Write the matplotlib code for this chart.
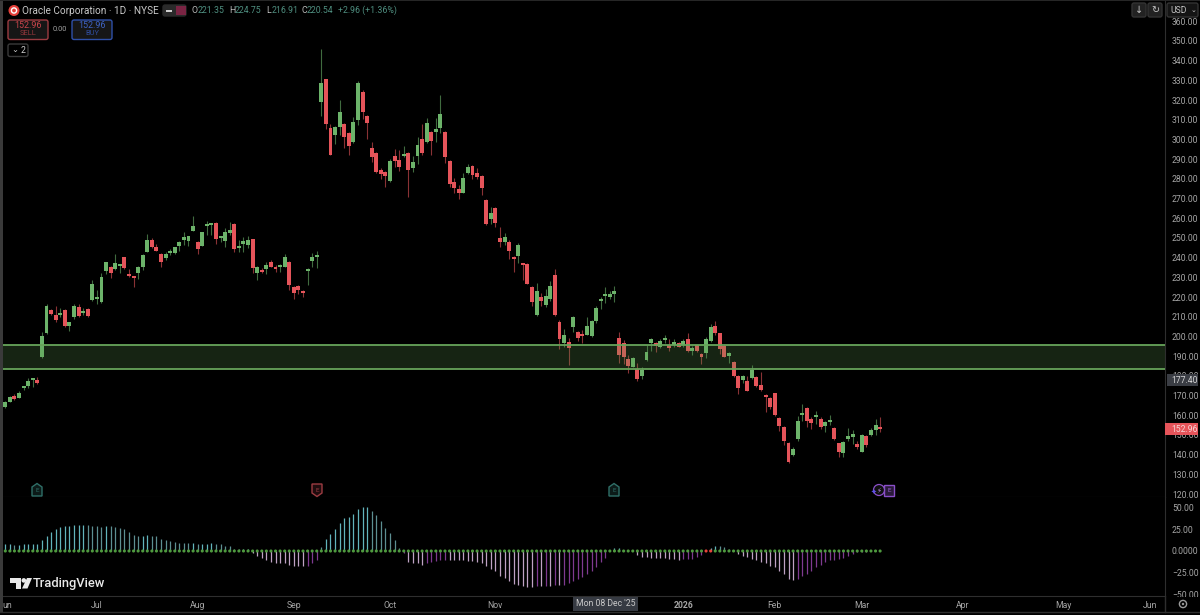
import matplotlib
matplotlib.use("Agg")
import matplotlib.pyplot as plt
from matplotlib.patches import Circle, FancyBboxPatch, Polygon, Rectangle

plt.rcParams['font.family'] = ['Roboto', 'DejaVu Sans']

# daily candles, one row per ten bars
opens = [164.2,166.9,170.0,169.0,174.0,174.7,177.8,177.8,189.8,201.6,
         213.3,210.7,211.1,213.4,205.5,210.1,215.0,212.1,214.0,218.7,
         219.2,217.5,233.2,235.1,234.4,236.0,240.2,231.7,230.5,232.2,
         235.4,243.1,248.8,245.4,242.0,239.7,242.6,242.2,246.1,249.0,
         248.6,253.7,248.2,246.0,256.0,256.6,257.8,249.8,248.5,252.4,
         257.3,245.1,247.0,246.3,249.3,232.4,233.7,234.1,237.6,235.3,
         235.1,235.4,238.0,225.3,225.8,223.1,233.1,238.5,240.2,319.2,
         330.5,305.8,302.3,306.5,307.9,303.1,298.9,309.9,324.1,312.1,
         295.5,293.1,284.7,283.7,278.8,291.8,289.6,291.6,293.3,285.4,
         291.6,300.2,298.7,303.8,303.8,305.7,303.8,289.1,278.3,275.0,
         273.0,283.2,286.7,283.0,281.5,269.1,259.6,265.4,250.2,247.8,
         248.1,239.9,240.9,236.6,236.8,225.1,210.8,220.2,216.2,218.9,
         231.2,207.4,196.5,197.2,204.8,202.3,201.3,200.9,200.3,207.9,
         217.9,220.6,220.0,221.7,199.3,196.5,188.6,184.7,183.3,180.0,
         188.1,196.5,196.5,194.8,198.0,195.7,195.5,196.5,195.5,198.7,
         192.5,195.5,191.1,191.6,197.6,205.3,201.9,195.2,189.9,187.2,
         180.0,177.9,177.4,178.9,179.5,175.2,170.3,168.6,171.2,158.6,
         154.2,145.9,139.7,148.1,160.0,163.7,158.1,159.0,158.1,154.4,
         156.6,153.6,145.8,140.9,148.0,149.0,145.6,141.5,149.3,149.9,152.7,153.7]
closes = [166.9,169.5,168.1,171.5,174.5,177.4,178.1,176.4,200.1,215.5,
          211.3,208.2,211.6,205.2,207.2,215.5,210.6,212.8,210.3,226.5,
          219.7,230.2,237.6,232.1,237.1,236.5,234.6,230.5,229.7,235.3,
          241.4,249.0,245.6,243.6,238.0,242.0,243.2,245.3,248.0,250.3,
          250.8,255.9,244.2,252.9,256.3,256.9,249.3,250.5,252.9,254.2,
          244.2,245.4,248.5,249.2,234.6,235.3,232.7,236.5,235.4,234.4,
          236.0,240.5,226.1,222.1,223.4,222.1,233.4,240.2,241.5,328.5,
          307.9,292.1,306.5,314.1,301.4,296.7,308.7,328.5,314.0,308.5,
          291.3,283.5,282.7,281.5,289.1,288.9,286.2,292.5,284.5,288.7,
          297.0,293.0,308.2,299.1,305.2,313.1,291.3,277.2,275.2,272.7,
          280.3,286.2,281.8,280.8,275.4,257.1,262.7,257.8,248.0,250.5,
          243.6,239.2,246.3,236.1,226.8,217.7,222.9,218.0,220.6,225.6,
          210.8,198.7,200.6,194.2,209.9,199.4,200.4,205.3,208.0,214.6,
          219.2,221.4,221.7,223.1,190.4,189.8,184.9,188.9,178.3,182.8,
          192.1,198.6,195.4,197.7,198.7,194.2,197.2,194.8,197.6,192.5,
          194.2,192.5,189.8,198.7,205.0,201.9,193.5,189.8,191.6,180.0,
          173.9,180.0,172.3,182.8,174.7,172.7,169.1,164.4,160.0,154.6,
          146.8,136.3,143.1,156.9,160.7,157.3,156.3,160.3,153.9,156.4,
          157.6,148.0,141.2,146.5,149.5,150.5,143.8,149.8,144.9,152.7,155.1,152.96]
highs = [167.2,169.8,170.6,172.3,175.0,178.8,178.4,179.6,202.5,216.7,
         214.0,215.7,214.6,213.8,207.5,216.3,216.7,214.3,214.5,228.5,
         223.4,232.1,238.0,235.8,241.7,236.6,240.5,234.3,230.9,236.0,
         241.7,251.9,249.8,246.8,242.4,243.0,244.4,245.6,248.5,252.9,
         251.2,261.0,248.5,253.2,258.8,257.1,258.1,250.8,254.9,258.0,
         257.6,249.0,250.7,250.8,249.7,235.8,234.9,238.0,238.8,236.3,
         236.6,242.0,238.3,225.6,226.1,223.4,234.6,242.5,243.4,345.8,
         330.9,307.9,306.8,320.0,308.5,303.8,311.2,329.5,325.1,312.4,
         298.7,293.8,285.4,284.2,289.9,295.0,294.7,296.7,293.6,291.6,
         301.1,307.9,310.7,304.5,310.9,322.6,304.1,289.4,280.5,277.0,
         283.2,287.6,287.2,285.5,281.8,269.6,265.9,265.9,255.4,252.7,
         249.0,240.9,247.3,237.2,237.2,225.6,227.0,222.2,224.0,228.4,
         234.1,208.4,204.0,199.1,210.4,202.6,203.3,210.1,208.4,215.5,
         219.9,225.0,223.3,225.6,202.1,198.2,190.6,189.8,186.7,184.7,
         195.7,199.1,197.4,198.6,200.6,198.6,198.6,197.2,198.9,202.0,
         195.2,195.9,191.5,199.9,206.4,208.0,202.0,195.7,192.3,187.7,
         180.5,180.5,180.0,185.6,180.0,182.0,170.6,169.5,171.5,159.3,
         154.6,146.5,143.8,159.7,165.7,164.0,159.3,162.4,159.0,157.3,
         160.3,154.2,146.1,147.1,153.6,152.5,147.1,150.5,149.8,153.4,158.3,159.3]
lows = [163.5,166.6,167.8,168.6,172.8,174.0,174.5,176.0,188.9,201.1,
        210.9,207.5,210.1,204.8,202.8,208.9,210.1,210.9,210.1,218.2,
        216.7,217.2,231.5,229.7,233.6,232.1,234.1,230.2,225.3,229.2,
        233.6,242.7,245.1,243.4,235.4,238.8,241.4,241.9,243.6,246.4,
        245.8,253.5,242.0,245.8,251.5,251.5,246.8,248.1,245.6,251.5,
        242.7,243.1,243.0,245.1,232.4,228.7,232.4,231.5,235.1,232.9,
        232.9,235.1,223.6,219.2,221.8,219.9,226.1,235.4,234.6,311.9,
        305.2,292.0,297.7,302.3,295.5,292.1,298.0,307.4,310.2,300.1,
        288.7,283.2,280.0,276.0,278.4,286.2,284.2,291.0,271.0,283.7,
        287.6,292.3,298.4,292.1,298.9,303.1,287.9,275.7,272.7,269.6,
        272.7,282.5,280.1,280.1,271.8,256.6,257.1,255.4,245.3,246.5,
        239.3,232.6,237.2,228.7,226.5,215.5,210.4,215.7,214.8,218.2,
        210.4,193.5,194.5,185.4,202.5,197.7,196.9,200.6,199.9,206.7,
        213.8,217.2,218.9,217.7,186.4,186.0,181.5,184.4,177.6,178.6,
        187.7,192.8,192.1,194.2,196.5,192.6,194.8,194.5,194.5,192.1,
        190.4,192.1,186.0,189.1,197.2,200.9,191.1,189.4,186.4,179.6,
        170.8,176.2,172.2,178.6,174.2,172.2,161.7,163.4,159.7,152.2,
        144.8,135.6,139.4,147.1,157.3,154.2,152.9,155.6,153.2,151.7,
        155.1,147.5,138.7,139.0,147.1,145.5,142.7,141.2,143.7,149.5,150.2,151.5]

# lower pane histogram
hist = [7.7,7.7,7.0,7.0,7.7,7.7,8.0,8.5,12.3,17.7,
        22.0,25.0,27.3,28.5,28.5,29.6,30.0,30.0,29.6,28.8,
        28.5,27.7,29.2,28.5,27.7,27.0,25.0,22.3,18.5,17.7,
        17.7,18.5,17.7,17.0,13.8,13.0,11.5,10.4,9.6,9.2,
        8.8,8.8,7.7,7.7,8.5,9.2,8.5,7.7,6.0,5.8,
        2.7,2.0,2.0,2.0,-2.7,-5.8,-8.5,-10.8,-12.7,-13.5,
        -13.5,-14.2,-16.0,-17.0,-17.7,-17.7,-17.0,-14.2,-10.4,4.6,
        13.8,19.6,25.8,32.7,37.7,38.8,42.7,48.5,50.8,50.8,
        46.5,41.5,34.6,26.5,20.4,12.7,3.8,-2.0,-12.5,-13.5,
        -14.0,-16.0,-14.0,-13.0,-11.5,-10.4,-10.0,-10.0,-10.4,-10.8,
        -10.8,-11.5,-12.0,-13.0,-14.2,-17.3,-20.4,-22.7,-28.5,-31.5,
        -34.6,-38.5,-39.6,-40.8,-42.0,-42.0,-41.0,-41.0,-40.4,-40.4,
        -39.6,-39.6,-38.8,-37.3,-34.6,-32.3,-30.0,-26.0,-22.7,-18.0,
        -12.7,-7.7,-0.5,3.0,3.0,1.0,0.5,0.5,-4.6,-6.5,
        -7.3,-7.7,-7.7,-8.0,-8.5,-8.8,-9.6,-10.0,-9.6,-9.2,
        -8.8,-7.3,-4.6,0.3,3.5,6.2,5.8,4.6,2.0,1.0,
        -3.5,-5.8,-7.3,-8.8,-10.4,-12.3,-14.2,-17.3,-18.8,-22.7,
        -27.0,-32.3,-33.8,-32.3,-28.5,-26.5,-22.7,-18.8,-15.8,-13.0,
        -10.8,-10.4,-9.6,-8.0,-5.8,-3.5,-1.5,-1.0,-0.8,-0.5,-0.3,-0.3]
red_dots = [153, 154]

zone_low = 183.5
zone_high = 195.7
last_close = 152.96
crosshair_price = 177.40

price_ticks = list(range(120, 361, 10))
osc_ticks = [50, 25, 0, -25, -50]
osc_labels = ['50.00', '25.00', '0.0000', '\u221225.00', '\u221250.00']
month_pos = [0.5, 20, 42, 63, 84, 107, 148, 168, 187, 209, 231, 250]
month_labels = ['un', 'Jul', 'Aug', 'Sep', 'Oct', 'Nov', '2026', 'Feb', 'Mar', 'Apr', 'May', 'Jun']

UP = '#6cb36a'
DOWN = '#e5545a'
LABEL = '#a6a6a6'
BORDER = '#2e2e2e'
AXIS_SIZE = 6.2

W, H = 1200, 615
fig = plt.figure(figsize=(W / 100, H / 100), dpi=100, facecolor='black')
ax = fig.add_axes([3 / W, (H - 497) / H, 1162 / W, 497 / H], facecolor='black')
ax2 = fig.add_axes([3 / W, (H - 596) / H, 1162 / W, 99 / H], facecolor='black')

bars = list(range(len(opens)))
colors = [UP if c >= o else DOWN for o, c in zip(opens, closes)]

ax.vlines(bars, lows, highs, colors=colors, lw=0.8, alpha=0.6, zorder=2)
ax.bar(bars, [max(abs(c - o), 1.0) for o, c in zip(opens, closes)],
       bottom=[min(o, c) for o, c in zip(opens, closes)],
       width=0.86, color=colors, linewidth=0, zorder=3)

ax.axhspan(zone_low, zone_high, facecolor='#5f9a50', alpha=0.24, linewidth=0, zorder=4)
ax.axhline(zone_low, color='#67a45a', lw=1.3, zorder=5)
ax.axhline(zone_high, color='#67a45a', lw=1.3, zorder=5)

ax.set_xlim(-0.5, 253.2)
ax.set_ylim(118.5, 370.8)
ax.set_xticks([])
ax.set_yticks(price_ticks)
ax.set_yticklabels([f'{p:.2f}' for p in price_ticks])

# bright when the histogram is growing, muted when it shrinks
bar_colors = []
for i, v in enumerate(hist):
    growing = i == 0 or abs(v) >= abs(hist[i - 1])
    if v >= 0:
        bar_colors.append('#62b4bc' if growing else '#5d8f92')
    else:
        bar_colors.append('#bfa2c4' if growing else '#7f3a90')

ax2.vlines(bars, 0, hist, colors=bar_colors, lw=0.9, zorder=2)
dot_colors = ['#e8453c' if i in red_dots else '#4f9a3f' for i in bars]
ax2.scatter(bars, [0] * len(bars), s=5, c=dot_colors, linewidths=0, zorder=3)
ax2.set_xlim(-0.5, 253.2)
ax2.set_ylim(-52, 62.4)
ax2.set_yticks(osc_ticks)
ax2.set_yticklabels(osc_labels)
ax2.set_xticks(month_pos)
ax2.set_xticklabels(month_labels)
ax2.get_xticklabels()[6].set_fontweight('bold')
ax2.get_xticklabels()[6].set_color('#d8d8d8')

for a in (ax, ax2):
    a.yaxis.tick_right()
    a.tick_params(axis='y', length=0, pad=5, labelsize=AXIS_SIZE, labelcolor=LABEL)
    a.tick_params(axis='x', length=0, pad=3.5, labelsize=AXIS_SIZE, labelcolor=LABEL)
    for s in a.spines.values():
        s.set_visible(False)
    a.spines['right'].set_visible(True)
    a.spines['right'].set_color(BORDER)
    a.spines['bottom'].set_visible(True)
    a.spines['bottom'].set_color(BORDER)

# chrome drawn in pixel coordinates
ui = fig.add_axes([0, 0, 1, 1], facecolor='none', zorder=10)
ui.set_xlim(0, W)
ui.set_ylim(H, 0)
ui.axis('off')

ui.add_patch(Rectangle((0, 0), 2.5, 612, fc='#3a3a3a', ec='none'))
ui.add_patch(Rectangle((0, 0), W, 1, fc='#262626', ec='none'))
ui.add_patch(Rectangle((1165.5, 596.5), 35, 15, fc='black', ec='none'))
ui.plot([0, W], [612, 612], color=BORDER, lw=1)
ui.plot([1165, 1165], [596, 612], color=BORDER, lw=1)


def box(x, y, w, h, ec, fc='#161616', lw=1):
    ui.add_patch(FancyBboxPatch((x + 2, y + 2), w - 4, h - 4, boxstyle='round,pad=2',
                                fc=fc, ec=ec, lw=lw))


def badge(x, y, color, fill, flip=False):
    # earnings flag: house shape, pointing down for a miss
    s = -1 if flip else 1
    pts = [(x - 5, y + s * 6), (x + 5, y + s * 6), (x + 5, y - s * 3), (x, y - s * 6.5), (x - 5, y - s * 3)]
    ui.add_patch(Polygon(pts, fc=fill, ec=color, lw=1))
    ui.text(x, y + 0.5, 'E', color=color, fontsize=4.5, ha='center', va='center')


# header
ui.add_patch(Circle((14, 10.5), 5.5, fc='#e5403a', ec='none'))
ui.add_patch(Circle((14, 10.5), 2.6, fc='none', ec='white', lw=1))
ui.text(22, 10.5, 'Oracle Corporation \u00b7 1D \u00b7 NYSE', color='#c9c9c9', fontsize=7.2,
        va='center', ha='left')
box(163, 5, 23, 11, '#2a2a2a', '#2a2a2a')
ui.add_patch(Rectangle((166, 9.5), 6, 2, fc='#cfcfcf', ec='none'))
ui.add_patch(Rectangle((176, 6), 10, 9, fc='#7a2443', ec='none'))
ohlc_x = [192, 229, 266, 301, 338]
ohlc_letter = ['O', 'H', 'L', 'C', '']
ohlc_value = ['221.35', '224.75', '216.91', '220.54', '+2.96 (+1.36%)']
for x, letter, val in zip(ohlc_x, ohlc_letter, ohlc_value):
    if letter:
        ui.text(x, 10.5, letter, color='#bdbdbd', fontsize=6.3, va='center', ha='left')
    ui.text(x + (6 if letter else 0), 10.5, val, color='#4f8f80', fontsize=6.3, va='center', ha='left')

box(8, 20, 40, 19.5, '#9c3c42')
ui.text(28, 25.5, f'{last_close:.2f}', color='#c9454b', fontsize=6.4, ha='center', va='center')
ui.text(28, 33.5, 'SELL', color='#96383d', fontsize=5.4, ha='center', va='center')
ui.text(60, 29.5, '0.00', color='#a0a0a0', fontsize=5.4, ha='center', va='center')
box(72, 20, 40, 19.5, '#2f50a8')
ui.text(92, 25.5, f'{last_close:.2f}', color='#3f63c4', fontsize=6.4, ha='center', va='center')
ui.text(92, 33.5, 'BUY', color='#2f4c9c', fontsize=5.4, ha='center', va='center')
box(8, 44, 20, 12.5, '#3a3a3a', 'black')
ui.text(15, 50, '\u2304', color='#cfcfcf', fontsize=6, ha='center', va='center', family='DejaVu Sans')
ui.text(23, 50.5, '2', color='#cfcfcf', fontsize=6.2, ha='center', va='center')

# top right buttons
box(1132, 3, 14, 14, '#333333', '#222222')
ui.text(1139, 10, '\u2193', color='#c4c4c4', fontsize=7, ha='center', va='center', family='DejaVu Sans')
box(1148, 3, 14, 14, '#333333', '#222222')
ui.text(1155, 10, '\u21bb', color='#c4c4c4', fontsize=7, ha='center', va='center', family='DejaVu Sans')
box(1167, 3, 31, 14, '#333333', '#141414')
ui.text(1170, 10.5, 'USD', color='#c4c4c4', fontsize=6.2, ha='left', va='center')
ui.text(1193, 10, '\u2304', color='#c4c4c4', fontsize=5, ha='center', va='center', family='DejaVu Sans')

# price tags
ui.add_patch(Rectangle((1167, 374), 31, 12, fc='#3a3d44', ec='none'))
ui.text(1171, 380.5, f'{crosshair_price:.2f}', color='#d4d4d4', fontsize=AXIS_SIZE, va='center')
ui.add_patch(Rectangle((1165, 423), 33, 12, fc='#e5545a', ec='none'))
ui.text(1171, 429.5, f'{last_close:.2f}', color='#f5d5d5', fontsize=AXIS_SIZE, va='center')

# crosshair date label
ui.add_patch(Rectangle((573, 596.5), 65, 14, fc='#363a42', ec='none'))
ui.text(605.5, 603.5, "Mon 08 Dec '25", color='#c9c9c9', fontsize=6.2, ha='center', va='center')

# earnings markers
badge(37, 490, '#2f6f68', '#0c1a18')
badge(317, 490, '#9c3c42', '#1f0c0e', flip=True)
badge(614, 490, '#2f6f68', '#0c1a18')
ui.add_patch(Rectangle((884, 484.5), 10, 11, fc='#2a1a3a', ec='#8a4fc8', lw=1))
ui.text(889, 490.5, 'E', color='#9a60d8', fontsize=4.5, ha='center', va='center')
ui.add_patch(Circle((879, 490), 5.5, fc='#101010', ec='#8a4fc8', lw=0.9))
ui.text(879, 490.5, '\u26a1', color='#b98ae8', fontsize=5, ha='center', va='center', family='DejaVu Sans')
ui.text(873.5, 492, '\u2726', color='#5f50e8', fontsize=5, ha='center', va='center', family='DejaVu Sans')

# TradingView logo
ui.add_patch(Polygon([(10, 578), (21, 578), (21, 588.5), (15.5, 588.5), (15.5, 582.5), (10, 582.5)],
                     fc='#e8e8e8', ec='none'))
ui.add_patch(Circle((23.8, 580.4), 2.3, fc='#e8e8e8', ec='none'))
ui.add_patch(Polygon([(27, 578), (32, 578), (27.5, 588.5), (22, 588.5)], fc='#e8e8e8', ec='none'))
ui.text(33, 583, 'TradingView', color='#e8e8e8', fontsize=9.3, fontweight='medium', ha='left', va='center')

# settings icon
ui.add_patch(Circle((1183, 604), 3.6, fc='none', ec='#9a9a9a', lw=1))
ui.add_patch(Circle((1183, 604), 1.2, fc='#9a9a9a', ec='none'))

fig.savefig('out.png', dpi=100, facecolor='black')
